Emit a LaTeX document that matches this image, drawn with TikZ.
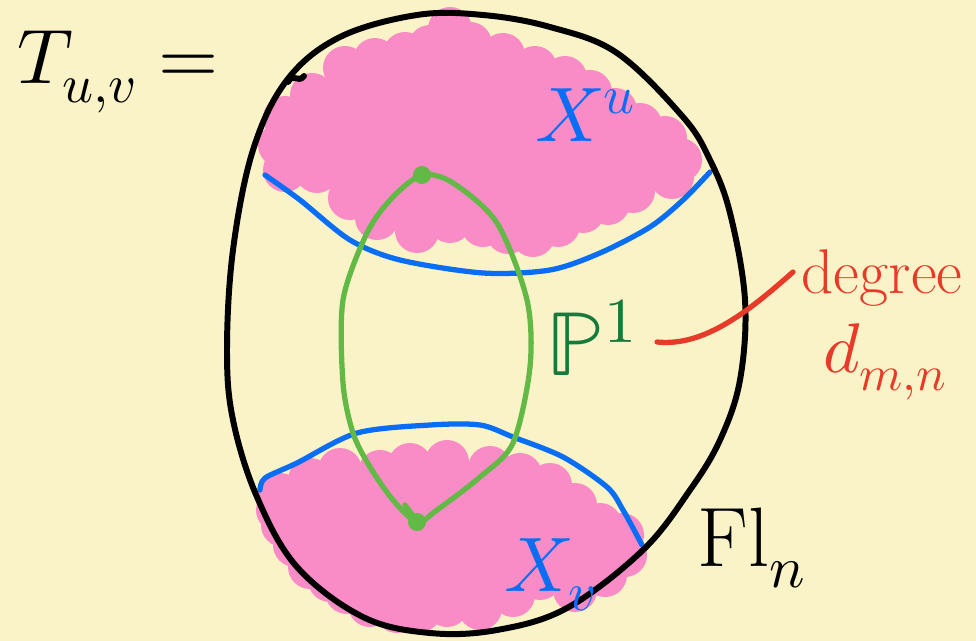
\documentclass[tikz,border=0pt]{standalone}
\usepackage{unicode-math}
\definecolor{paper}{HTML}{FAF3C8}
\definecolor{blobpink}{HTML}{F98CC6}
\definecolor{curveblue}{HTML}{0A6EF5}
\definecolor{loopgreen}{HTML}{62B946}
\definecolor{labelgreen}{HTML}{157A3A}
\definecolor{pointred}{HTML}{E83A28}
\def\topblob{450/29, 470/44, 503/55, 535/68, 565/78, 590/92, 615/110, 640/125, 665/138, 680/160, 672/177, 633/191, 608/203, 583/211, 558/225, 533/235, 508/232, 483/225, 450/221, 417/231, 377/218, 350/198, 317/171, 285/170, 280/145, 285/118, 312/95, 345/68, 375/60, 405/54, 430/47}
\def\botblob{280/495, 310/480, 340/470, 380/472, 410/465, 447/462, 490/468, 520/475, 550/485, 575/505, 600/525, 622/535, 625/555, 605/575, 575/590, 540/578, 513/595, 480/608, 447/605, 420/610, 397/611, 370/605, 347/592, 330/580, 310/567, 295/545, 283/525, 278/510}

\begin{document}
\begin{tikzpicture}[x=0.02cm, y=-0.02cm, line cap=round, line join=round,
  pen/.style={line width=3pt},
  biglab/.style={font=\fontsize{44}{48}\selectfont},
  lab/.style={font=\fontsize{44}{48}\selectfont},
  smalllab/.style={font=\fontsize{36}{40}\selectfont, pointred}]
\fill[paper] (0,0) rectangle (976,641);
\useasboundingbox (0,0) rectangle (976,641);
\fill[blobpink] (430,47) foreach \x/\y in \topblob {-- (\x,\y)} -- cycle; \foreach \x/\y in \topblob {\fill[blobpink] (\x,\y) circle (22);}
\fill[blobpink] (278,510) foreach \x/\y in \botblob {-- (\x,\y)} -- cycle; \foreach \x/\y in \botblob {\fill[blobpink] (\x,\y) circle (22);}
\draw[pen, curveblue] plot[smooth] coordinates {(265,175) (300,200) (350,240) (400,260) (483,273) (550,270) (600,253) (650,227) (683,200) (710,172)};
\draw[pen, curveblue] plot[smooth] coordinates {(260,490) (265,478) (297,463) (357,433) (430,425) (480,425) (513,437) (563,457) (607,487) (623,510) (642,545)};
\draw[pen, loopgreen] plot[smooth cycle] coordinates {(422,175) (453,183) (497,223) (527,300) (530,367) (513,443) (480,477) (437,510) (417,522) (393,500) (370,467) (353,433) (343,383) (343,300) (367,233) (392,198)};
\fill[loopgreen] (422,175) circle (9); \fill[loopgreen] (417,522) circle (9); \draw[pen, loopgreen] (405,505) -- (414,517);
\draw[line width=3.4pt] plot[smooth cycle, tension=0.6] coordinates {(417,15) (483,15) (550,27) (617,53) (683,117) (710,160) (730,213) (745,300) (740,380) (720,440) (690,490) (643,550) (567,608) (497,630) (430,633) (363,617) (297,567) (257,497) (233,420) (227,350) (233,250) (253,150) (287,80) (340,37)};
\draw[line width=3.4pt] (288,82) .. controls (293,72) and (298,84) .. (304,76);
\coordinate (tail) at (657,342); \coordinate (tip) at (793,272);
\draw[pen, pointred] (tail) .. controls (705,347) and (750,310) .. (tip);
\node[biglab] (title) at (118,72) {$T_{u,v} =$};
\node[lab, curveblue] (xu) at (585,115) {$X^u$};
\node[lab, curveblue] (xv) at (550,575) {$X_v$};
\node[lab, labelgreen, font=\fontsize{52}{56}\selectfont] (pone) at (592,338) {$\mathbb{P}^1$};
\node[smalllab] (degree) at (882,278) {degree};
\node[smalllab, font=\fontsize{40}{44}\selectfont] (dmn) at (885,362) {$d_{m,n}$};
\node[lab, font=\fontsize{48}{52}\selectfont] (fln) at (752,548) {$\mathrm{Fl}_n$};
\end{tikzpicture}
\end{document}
